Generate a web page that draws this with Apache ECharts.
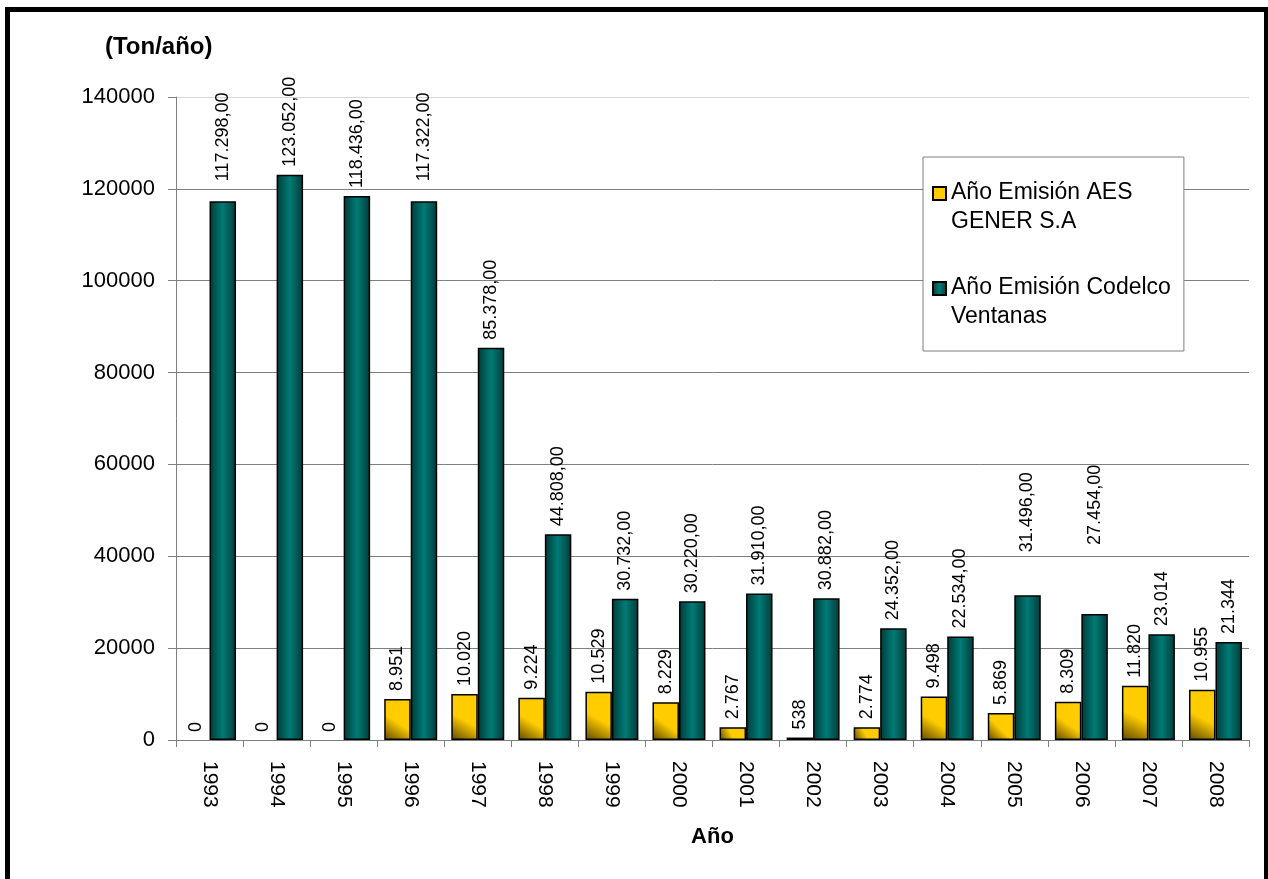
<!DOCTYPE html>
<html>
<head>
<meta charset="utf-8">
<script src="https://cdn.jsdelivr.net/npm/echarts@6/dist/echarts.min.js"></script>
<style>
  html, body { margin: 0; padding: 0; background: #fff; overflow: hidden; }
  #chart { position: absolute; left: 0; top: 0; width: 1268px; height: 879px; }
  #frame { position: absolute; left: 5px; top: 7px; width: 1264px; height: 900px; box-sizing: border-box; border: 5px solid #000; pointer-events: none; }
</style>
</head>
<body>
<div id="chart"></div>
<div id="frame"></div>
<script>
// ---- data ----
const years = ['1993','1994','1995','1996','1997','1998','1999','2000','2001','2002','2003','2004','2005','2006','2007','2008'];
const aesValues = [0, 0, 0, 8951, 10020, 9224, 10529, 8229, 2767, 538, 2774, 9498, 5869, 8309, 11820, 10955];
const codelcoValues = [117298, 123052, 118436, 117322, 85378, 44808, 30732, 30220, 31910, 30882, 24352, 22534, 31496, 27454, 23014, 21344];
const aesName = 'Año Emisión AES\nGENER S.A';
const codelcoName = 'Año Emisión Codelco\nVentanas';
const codelcoNoDecimalYears = ['2007', '2008'];

// label placement tweaks (styling, not data)
const codelcoLabelDistance = { '1993': 20, '1996': 20, '2005': 43, '2006': 69 };

const FONT = '"Liberation Sans", Arial, sans-serif';

function fmtES(n, decimals) {
  const s = Math.round(n).toString().replace(/\B(?=(\d{3})+(?!\d))/g, '.');
  return decimals ? s + ',00' : s;
}

const chart = echarts.init(document.getElementById('chart'), null, { renderer: 'canvas' });

const tealGrad = new echarts.graphic.LinearGradient(0, 0, 1, 0, [
  { offset: 0, color: '#013a37' },
  { offset: 0.5, color: '#007b76' },
  { offset: 1, color: '#013a37' }
]);
const yellowGrad = new echarts.graphic.LinearGradient(0, 1, 1, 0, [
  { offset: 0, color: '#5e4700' },
  { offset: 0.45, color: '#ffcc00' },
  { offset: 1, color: '#ffcc00' }
]);

const baseLabel = {
  show: true,
  position: 'top',
  rotate: 90,
  align: 'left',
  verticalAlign: 'middle',
  distance: 8,
  fontFamily: FONT,
  fontSize: 18,
  color: '#000'
};

const legendIcon = 'path://M0,0 L13,0 L13,13 L0,13 Z M0,40';

chart.setOption({
  animation: false,
  backgroundColor: '#fff',
  title: {
    text: '(Ton/año)',
    left: 100,
    top: 30,
    textStyle: { fontFamily: FONT, fontSize: 24, fontWeight: 'bold', color: '#000' }
  },
  grid: {
    left: 176, right: 19, top: 97, bottom: 139,
    outerBoundsMode: 'none'
  },
  legend: {
    orient: 'vertical',
    left: 923,
    top: 157,
    padding: [21, 13, 20, 9],
    itemGap: 37,
    itemWidth: 13,
    itemHeight: 40,
    align: 'left',
    backgroundColor: '#fff',
    borderColor: '#7f7f7f',
    borderWidth: 1,
    borderRadius: 0,
    textStyle: { fontFamily: FONT, fontSize: 23, lineHeight: 29, color: '#000' },
    data: [
      { name: aesName, icon: legendIcon },
      { name: codelcoName, icon: legendIcon }
    ]
  },
  xAxis: {
    type: 'category',
    data: years,
    name: 'Año',
    nameLocation: 'middle',
    nameGap: 86,
    nameTextStyle: { fontFamily: FONT, fontSize: 22, fontWeight: 'bold', color: '#000' },
    axisLine: { show: true, lineStyle: { color: '#7f7f7f', width: 1 } },
    axisTick: { show: true, length: 7, lineStyle: { color: '#7f7f7f' } },
    axisLabel: {
      interval: 0,
      rotate: -90,
      margin: 21,
      fontFamily: FONT,
      fontSize: 21,
      color: '#000'
    },
    splitLine: { show: false }
  },
  yAxis: {
    type: 'value',
    min: 0,
    max: 140000,
    interval: 20000,
    axisLine: { show: true, lineStyle: { color: '#7f7f7f', width: 1 } },
    axisTick: { show: true, length: 8, lineStyle: { color: '#7f7f7f' } },
    axisLabel: { margin: 21, fontFamily: FONT, fontSize: 22, color: '#000', formatter: v => String(v) },
    splitLine: {
      show: true,
      lineStyle: {
        color: ['#7f7f7f', '#7f7f7f', '#7f7f7f', '#7f7f7f', '#7f7f7f', '#7f7f7f', '#7f7f7f', '#d6d6d6'],
        width: 1
      }
    }
  },
  series: [
    {
      name: aesName,
      type: 'bar',
      data: aesValues.map(v => (v === 0 ? { value: v, itemStyle: { borderWidth: 0 } } : v)),
      barGap: '0%',
      barCategoryGap: '21%',
      itemStyle: { color: yellowGrad, borderColor: '#000', borderWidth: 1.5 },
      label: Object.assign({}, baseLabel, {
        formatter: p => fmtES(p.value, false)
      })
    },
    {
      name: codelcoName,
      type: 'bar',
      data: codelcoValues.map((v, i) => ({
        value: v,
        label: { distance: codelcoLabelDistance[years[i]] || 8 }
      })),
      barGap: '0%',
      barCategoryGap: '21%',
      itemStyle: { color: tealGrad, borderColor: '#000', borderWidth: 1.5 },
      label: Object.assign({}, baseLabel, {
        formatter: p => fmtES(p.value, codelcoNoDecimalYears.indexOf(p.name) < 0)
      })
    }
  ]
});
</script>
</body>
</html>
